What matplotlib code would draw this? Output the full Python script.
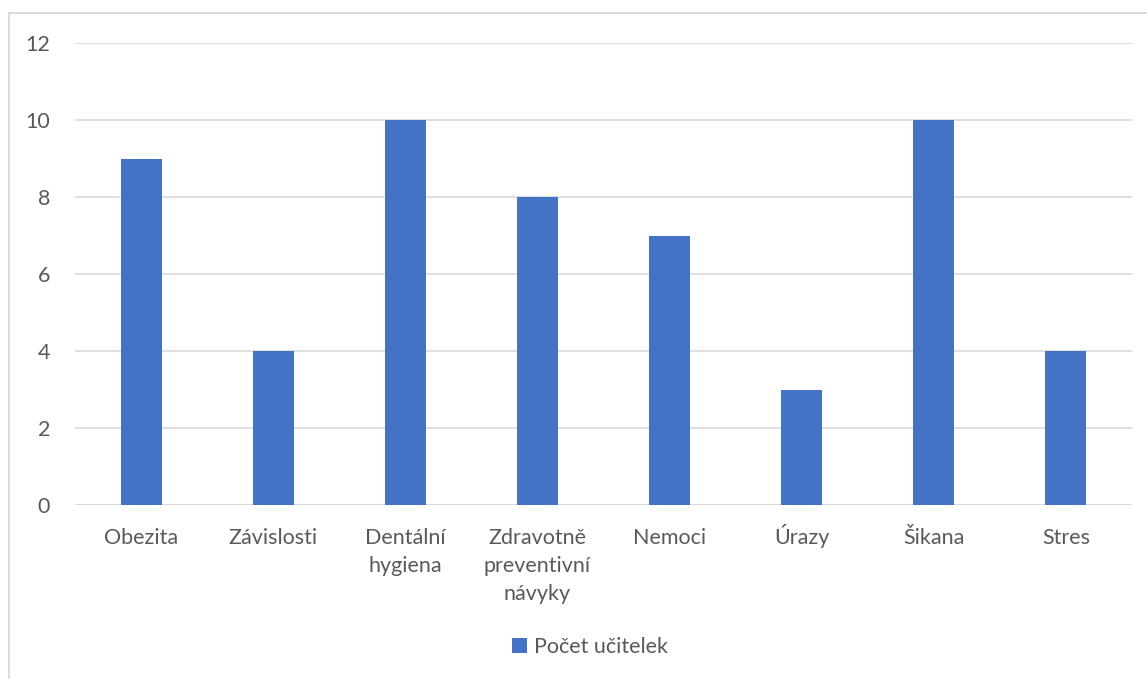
import matplotlib

matplotlib.use("Agg")
import matplotlib.pyplot as plt
from matplotlib.patches import Rectangle
import numpy as np

categories = ["Obezita", "Závislosti", "Dentální\nhygiena", "Zdravotně\npreventivní\nnávyky",
              "Nemoci", "Úrazy", "Šikana", "Stres"]
values = [9, 4, 10, 8, 7, 3, 10, 4]
series_name = "Počet učitelek"
y_ticks = [0, 2, 4, 6, 8, 10, 12]

bar_color = "#4472C4"
text_color = "#595959"
grid_color = "#D9D9D9"
font_size = 15.5

plt.rcParams["font.family"] = ["Lato", "DejaVu Sans"]

W, H = 1147, 679
fig = plt.figure(figsize=(W / 100, H / 100), dpi=100)
ax = fig.add_axes([75 / W, 1 - 505 / H, (1132 - 75) / W, (505 - 43) / H])

x = np.arange(len(categories))
ax.bar(x, values, width=0.31, color=bar_color, zorder=3, label=series_name)

ax.set_xlim(-0.5, len(categories) - 0.5)
ax.set_ylim(0, 12)
ax.set_yticks(y_ticks)
ax.set_xticks(x)
ax.set_xticklabels([])
ax.tick_params(axis="both", length=0, labelsize=font_size, colors=text_color)
ax.tick_params(axis="y", pad=18)
ax.yaxis.grid(True, color=grid_color, linewidth=1.2, zorder=0)
for s in ax.spines.values():
    s.set_visible(False)
ax.axhline(0, color=grid_color, linewidth=1.2, zorder=2)

# category labels, one line at a time so baselines line up (accents don't shift them)
for xi, cat in zip(x, categories):
    for k, line in enumerate(cat.split("\n")):
        ax.annotate(line, xy=(xi, 0), xycoords=("data", "axes fraction"),
                    xytext=(0, -39 - 28 * k), textcoords="offset pixels",
                    ha="center", va="baseline", fontsize=font_size, color=text_color)

leg = fig.legend(loc="center", bbox_to_anchor=(590 / W, 1 - 647 / H), frameon=False,
                 fontsize=font_size, handlelength=0.7, handleheight=0.7, handletextpad=0.35)
for t in leg.get_texts():
    t.set_color(text_color)

# chart border
fig.add_artist(Rectangle((9 / W, -0.1), 1.2, 1 - 13 / H + 0.1, transform=fig.transFigure,
                         fill=False, edgecolor="#D9D9D9", linewidth=1.3))

fig.savefig("out.png", dpi=100, facecolor="white")
